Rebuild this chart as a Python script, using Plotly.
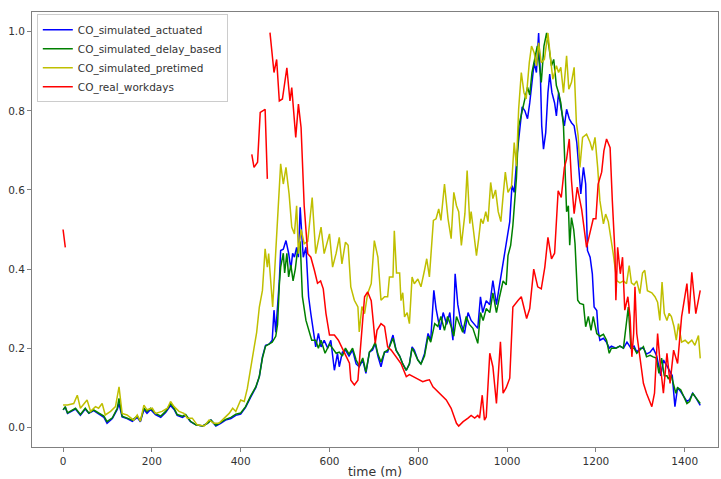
import plotly.graph_objects as go

# ---------------- data (time in minutes, normalised CO) ----------------
low_t = [0, 5, 10, 28, 39, 50, 58, 69, 80, 92, 99, 111, 122, 126, 133, 144, 156, 167, 174, 182,
         189, 197, 208, 220, 231, 242, 250, 257, 269, 276, 287, 299, 314, 325, 333, 344, 355,
         366, 378, 389, 400, 411, 422, 434]

act_t = low_t + [442, 449, 456, 464, 471, 475, 479, 483, 487, 490, 496, 502, 508, 513, 517, 521, 526,
         530, 534, 538, 541, 547, 553, 558, 564, 569, 575, 581, 588, 596, 603, 611, 618, 622, 629,
         636, 644, 652, 660, 667, 675, 682, 690, 697, 703, 709, 716, 724, 731, 735, 743, 750, 758,
         765, 773, 780, 786, 791, 799, 806, 814, 822, 828, 835, 840, 849, 856, 864, 871, 878, 883,
         889, 897, 904, 912, 919, 927, 934, 940, 945, 953, 961, 968, 976, 983, 991, 998, 1006, 1011,
         1016, 1023, 1029, 1034, 1040, 1046, 1051, 1055, 1061, 1066, 1071, 1075, 1078, 1082, 1087,
         1092, 1096, 1101, 1107, 1111, 1116, 1121, 1129, 1134, 1140, 1145, 1151, 1157, 1162, 1166,
         1172, 1177, 1181, 1187, 1192, 1196, 1202, 1205, 1209, 1217, 1224, 1230, 1235, 1245, 1254,
         1262, 1270, 1279, 1286, 1292, 1300, 1307, 1314, 1322, 1329, 1337, 1346, 1352, 1360, 1367,
         1372, 1378, 1384, 1391, 1398, 1405, 1411, 1418, 1425, 1435]
act_v = [0.044, 0.05, 0.035, 0.046, 0.03, 0.046, 0.035, 0.042, 0.034, 0.025, 0.01, 0.022, 0.045, 0.06,
         0.026, 0.022, 0.015, 0.025, 0.014, 0.045, 0.035, 0.045, 0.032, 0.025, 0.037, 0.055, 0.045,
         0.03, 0.025, 0.03, 0.014, 0.006, 0.003, 0.01, 0.018, 0.003, 0.01, 0.018, 0.022, 0.03, 0.033,
         0.05, 0.075, 0.1,
         0.128, 0.178, 0.207, 0.21, 0.22, 0.296, 0.24, 0.3, 0.37, 0.447, 0.45, 0.472, 0.44, 0.40,
         0.44, 0.43, 0.455, 0.43, 0.556, 0.48, 0.43, 0.455, 0.33, 0.287, 0.245, 0.203, 0.237, 0.203,
         0.22, 0.2, 0.22, 0.144, 0.187, 0.153, 0.19, 0.195, 0.18, 0.195, 0.16, 0.153, 0.17, 0.136,
         0.19, 0.195, 0.212, 0.18, 0.153, 0.19, 0.19, 0.203, 0.233, 0.195, 0.18, 0.16, 0.144, 0.16,
         0.203, 0.195, 0.17, 0.16, 0.186, 0.237, 0.22, 0.346, 0.3, 0.246, 0.29, 0.26, 0.29, 0.22,
         0.388, 0.31, 0.26, 0.237, 0.29, 0.27, 0.26, 0.25, 0.33, 0.29, 0.32, 0.31, 0.371, 0.31, 0.36,
         0.413, 0.468, 0.52, 0.611, 0.594, 0.695, 0.762, 0.81, 0.8, 0.78, 0.82, 0.86, 0.922, 0.897,
         0.997, 0.89, 0.762, 0.703, 0.745, 0.846, 0.893, 0.846, 0.82, 0.787, 0.846, 0.81, 0.762,
         0.804, 0.78, 0.77, 0.762, 0.72, 0.657, 0.59, 0.657, 0.615, 0.447, 0.43, 0.388, 0.304, 0.295,
         0.245, 0.22, 0.225, 0.215, 0.2, 0.205, 0.2, 0.205, 0.2, 0.215, 0.2, 0.205, 0.19, 0.2, 0.2,
         0.185, 0.19, 0.2, 0.18, 0.13, 0.17, 0.155, 0.14, 0.13, 0.052, 0.1, 0.09, 0.076, 0.065,
         0.07, 0.086, 0.075, 0.055]

del_t = low_t + [442, 449, 456, 464, 471, 479, 483, 487, 490, 496, 499, 504, 508, 513, 518, 523, 528,
         534, 539, 547, 554, 560, 569, 575, 581, 590, 600, 607, 615, 622, 629, 636, 644, 652, 660,
         667, 675, 682, 690, 697, 703, 709, 716, 724, 731, 735, 743, 750, 758, 765, 773, 780, 786,
         791, 799, 806, 814, 822, 828, 837, 844, 851, 859, 866, 874, 880, 886, 893, 900, 908, 915,
         923, 934, 940, 946, 953, 961, 968, 976, 983, 991, 998, 1002, 1008, 1013, 1021, 1026, 1032,
         1040, 1046, 1051, 1056, 1062, 1068, 1073, 1077, 1083, 1089, 1094, 1100, 1105, 1111, 1116,
         1121, 1127, 1130, 1134, 1138, 1141, 1145, 1150, 1153, 1159, 1164, 1172, 1177, 1183, 1189,
         1194, 1202, 1209, 1217, 1224, 1230, 1235, 1245, 1254, 1262, 1273, 1279, 1286, 1292, 1300,
         1307, 1314, 1322, 1329, 1336, 1342, 1348, 1354, 1360, 1363, 1370, 1380, 1384, 1391, 1398,
         1405, 1411, 1418, 1425, 1435]
del_v = [0.044, 0.052, 0.036, 0.048, 0.032, 0.048, 0.036, 0.044, 0.036, 0.028, 0.014, 0.024, 0.048,
         0.073, 0.028, 0.024, 0.018, 0.028, 0.016, 0.048, 0.04, 0.048, 0.035, 0.028, 0.04, 0.06,
         0.048, 0.032, 0.028, 0.032, 0.015, 0.006, 0.003, 0.01, 0.018, 0.005, 0.012, 0.02, 0.025,
         0.033, 0.036, 0.052, 0.078, 0.102,
         0.128, 0.175, 0.205, 0.21, 0.215, 0.23, 0.26, 0.36, 0.405, 0.44, 0.39, 0.44, 0.38, 0.41,
         0.37, 0.40, 0.447, 0.47, 0.33, 0.27, 0.245, 0.22, 0.22, 0.2, 0.22, 0.187, 0.21, 0.2, 0.187,
         0.19, 0.18, 0.2, 0.185, 0.2, 0.17, 0.155, 0.175, 0.14, 0.19, 0.2, 0.215, 0.185, 0.165, 0.19,
         0.195, 0.203, 0.225, 0.195, 0.18, 0.16, 0.144, 0.16, 0.2, 0.19, 0.17, 0.16, 0.18, 0.23,
         0.215, 0.262, 0.255, 0.28, 0.245, 0.28, 0.255, 0.23, 0.28, 0.26, 0.24, 0.28, 0.26, 0.25,
         0.212, 0.29, 0.27, 0.30, 0.29, 0.34, 0.29, 0.33, 0.37, 0.36, 0.434, 0.46, 0.51, 0.63, 0.76,
         0.79, 0.83, 0.86, 0.84, 0.897, 0.93, 0.964, 0.914, 0.872, 0.964, 0.997, 0.964, 0.914, 0.93,
         0.864, 0.846, 0.82, 0.762, 0.661, 0.545, 0.56, 0.46, 0.53, 0.5, 0.464, 0.321, 0.313, 0.31,
         0.254, 0.28, 0.245, 0.28, 0.237, 0.23, 0.235, 0.22, 0.187, 0.2, 0.2, 0.205, 0.2, 0.304, 0.2,
         0.2, 0.187, 0.195, 0.204, 0.178, 0.182, 0.178, 0.175, 0.136, 0.175, 0.13, 0.13, 0.123, 0.13,
         0.086, 0.1, 0.095, 0.076, 0.06, 0.065, 0.086, 0.075, 0.06]

pre_t = [0, 10, 24, 32, 39, 54, 62, 73, 80, 88, 95, 107, 118, 126, 133, 144, 159, 167, 174, 182, 189,
         201, 208, 223, 235, 242, 250, 261, 272, 280, 291, 302, 318, 329, 340, 351, 363, 374, 382,
         389, 400, 408, 415, 422, 430, 436, 442, 449, 455, 460, 463, 472, 479, 484, 490, 496, 502,
         509, 515, 521, 526, 530, 536, 543, 551, 561, 569, 581, 588, 600, 607, 615, 622, 628, 636,
         642, 648, 656, 664, 667, 673, 679, 686, 694, 701, 709, 716, 724, 731, 735, 743, 746, 751,
         758, 761, 765, 769, 775, 780, 786, 791, 799, 806, 814, 819, 825, 834, 840, 846, 851, 859,
         867, 874, 880, 886, 891, 897, 905, 910, 916, 919, 924, 931, 936, 941, 946, 952, 957, 963,
         968, 974, 980, 986, 991, 996, 1002, 1010, 1016, 1021, 1026, 1032, 1038, 1043, 1050, 1055,
         1061, 1066, 1071, 1077, 1084, 1092, 1098, 1103, 1111, 1116, 1121, 1127, 1134, 1139, 1145,
         1151, 1156, 1160, 1164, 1170, 1179, 1187, 1192, 1198, 1204, 1209, 1217, 1222, 1228, 1234,
         1239, 1247, 1254, 1262, 1269, 1275, 1280, 1286, 1292, 1299, 1305, 1310, 1316, 1326, 1333,
         1339, 1344, 1349, 1354, 1360, 1365, 1370, 1376, 1381, 1386, 1393, 1401, 1408, 1416, 1423,
         1431, 1435]
pre_v = [0.056, 0.056, 0.06, 0.081, 0.048, 0.069, 0.04, 0.052, 0.048, 0.06, 0.031, 0.04, 0.052, 0.102,
         0.035, 0.031, 0.018, 0.031, 0.015, 0.056, 0.044, 0.048, 0.035, 0.04, 0.048, 0.065, 0.052,
         0.04, 0.035, 0.023, 0.023, 0.006, 0.003, 0.018, 0.01, 0.01, 0.023, 0.035, 0.048, 0.04, 0.069,
         0.065, 0.098, 0.15, 0.2, 0.24, 0.304, 0.346, 0.451, 0.405, 0.439, 0.304, 0.439, 0.556,
         0.666, 0.615, 0.657, 0.59, 0.506, 0.489, 0.56, 0.439, 0.5, 0.464, 0.47, 0.581, 0.439, 0.506,
         0.439, 0.489, 0.405, 0.44, 0.48, 0.413, 0.468, 0.46, 0.355, 0.321, 0.304, 0.241, 0.305,
         0.287, 0.338, 0.363, 0.472, 0.43, 0.321, 0.33, 0.33, 0.38, 0.38, 0.497, 0.39, 0.39, 0.32,
         0.34, 0.279, 0.29, 0.262, 0.38, 0.363, 0.375, 0.355, 0.397, 0.426, 0.38, 0.523, 0.527,
         0.552, 0.523, 0.615, 0.527, 0.477, 0.594, 0.56, 0.545, 0.46, 0.54, 0.649, 0.515, 0.545, 0.5,
         0.434, 0.477, 0.527, 0.515, 0.545, 0.52, 0.619, 0.578, 0.6, 0.545, 0.52, 0.585, 0.645,
         0.594, 0.61, 0.72, 0.66, 0.804, 0.897, 0.846, 0.83, 0.922, 0.964, 0.947, 0.914, 0.972,
         0.922, 0.93, 0.997, 0.93, 0.88, 0.914, 0.897, 0.91, 0.846, 0.939, 0.855, 0.872, 0.91, 0.771,
         0.737, 0.657, 0.733, 0.741, 0.72, 0.70, 0.733, 0.657, 0.573, 0.514, 0.539, 0.52, 0.48,
         0.439, 0.371, 0.365, 0.37, 0.363, 0.409, 0.365, 0.36, 0.37, 0.338, 0.39, 0.397, 0.345, 0.34,
         0.33, 0.316, 0.27, 0.367, 0.288, 0.27, 0.288, 0.28, 0.254, 0.22, 0.262, 0.215, 0.22, 0.212,
         0.22, 0.207, 0.232, 0.174]

real_t = [0, 5, 6,
          425, 430, 438, 444, 455, 460, 462,
          466, 475, 481, 487, 494, 504, 511, 515, 524, 530, 536, 541, 543, 551, 558, 566, 573, 580,
          586, 592, 600, 611, 620, 633, 645, 648, 656, 664, 671, 679, 686, 694, 699, 703, 707, 716,
          724, 731, 739, 750, 761, 773, 780, 795, 810, 818, 825, 833, 848, 863, 874, 878, 886, 891,
          901, 912, 919, 927, 934, 938, 944, 949, 953, 961, 968, 976, 985, 991, 998, 1006, 1013,
          1025, 1032, 1044, 1051, 1060, 1069, 1077, 1085, 1092, 1100, 1107, 1115, 1122, 1129, 1134,
          1140, 1145, 1151, 1158, 1168, 1179, 1187, 1194, 1200, 1205, 1213, 1218, 1224, 1232, 1237,
          1243, 1245, 1249, 1255, 1260, 1265, 1272, 1277, 1281, 1285, 1288, 1292, 1299, 1307, 1314,
          1326, 1332, 1339, 1344, 1352, 1360, 1367, 1375, 1384, 1393, 1405, 1410, 1416, 1425, 1435]
real_v = [0.50, 0.455, None,
          0.69, 0.657, 0.67, 0.796, 0.804, 0.628, None,
          0.998, 0.897, 0.93, 0.825, 0.83, 0.909, 0.825, 0.859, 0.733, 0.817, 0.758, 0.59, 0.56,
          0.439, 0.43, 0.397, 0.364, 0.37, 0.35, 0.288, 0.233, 0.233, 0.22, 0.19, 0.162, 0.119,
          0.107, 0.119, 0.228, 0.33, 0.342, 0.32, 0.262, 0.212, 0.245, 0.262, 0.255, 0.203, 0.195,
          0.178, 0.161, 0.128, 0.133, 0.124, 0.115, 0.118, 0.12, 0.102, 0.086, 0.069, 0.048, 0.035,
          0.01, 0.003, 0.014, 0.023, 0.03, 0.023, 0.03, 0.023, 0.081, 0.018, 0.026, 0.187, 0.153,
          0.06, 0.216, 0.086, 0.1, 0.124, 0.304, 0.321, 0.33, 0.275, 0.30, 0.4, 0.355, 0.35, 0.405,
          0.48, 0.426, 0.44, 0.598, 0.581, 0.657, 0.678, 0.729, 0.624, 0.54, 0.607, 0.55, 0.455,
          0.497, 0.527, 0.527, 0.615, 0.645, 0.699, 0.729, 0.707, 0.573, 0.439, 0.321, 0.455, 0.388,
          0.43, 0.296, 0.33, 0.279, 0.178, 0.237, 0.355, 0.237, 0.178, 0.111, 0.086, 0.052, 0.086,
          0.237, 0.17, 0.086, 0.187, 0.111, 0.195, 0.161, 0.279, 0.363, 0.287, 0.392, 0.287, 0.346]

series = [
    ("CO_simulated_actuated", act_t, act_v, "#0000ff"),
    ("CO_simulated_delay_based", del_t, del_v, "#008000"),
    ("CO_simulated_pretimed", pre_t, pre_v, "#bfbf00"),
    ("CO_real_workdays", real_t, real_v, "#ff0000"),
]

x_ticks = [0, 200, 400, 600, 800, 1000, 1200, 1400]
y_ticks = [0.0, 0.2, 0.4, 0.6, 0.8, 1.0]

fig = go.Figure()
for name, t, v, c in series:
    fig.add_trace(go.Scatter(x=t, y=v, mode="lines", name=name,
                             line=dict(color=c, width=1.5), connectgaps=False))

font = "DejaVu Sans, Liberation Sans, sans-serif"
axis_common = dict(showline=True, mirror=True, linecolor="#808080", linewidth=1,
                   ticks="outside", ticklen=4, tickcolor="#808080", showgrid=False,
                   zeroline=False, automargin=False,
                   tickfont=dict(family=font, size=10.5, color="#333333"))
fig.update_layout(
    width=721, height=479,
    margin=dict(l=32, r=3, t=12, b=32, autoexpand=False),
    paper_bgcolor="white", plot_bgcolor="white",
    font=dict(family=font, color="#333333"),
    xaxis=dict(range=[-70, 1475], tickvals=x_ticks,
               title=dict(text="time (m)", font=dict(family=font, size=12.5, color="#333333"),
                          standoff=1),
               **axis_common),
    yaxis=dict(range=[-0.05, 1.05], tickvals=y_ticks, tickformat=".1f", **axis_common),
    legend=dict(x=0.007, y=0.995, xanchor="left", yanchor="top",
                bgcolor="white", bordercolor="#cccccc", borderwidth=1,
                font=dict(family=font, size=10.5, color="#333333"),
                tracegroupgap=0, itemwidth=30),
    showlegend=True,
)
fig.write_html("out.html", config={"displayModeBar": False},
               post_script="document.body.style.margin='0';document.body.style.overflow='hidden';")
